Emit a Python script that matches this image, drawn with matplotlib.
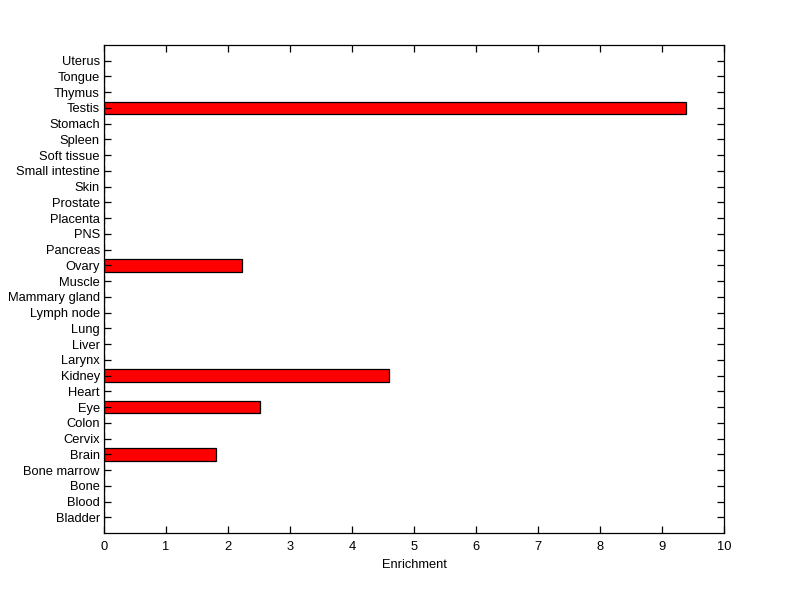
import matplotlib
matplotlib.use("Agg")
import matplotlib.pyplot as plt

tissues = [
    "Bladder", "Blood", "Bone", "Bone marrow", "Brain", "Cervix", "Colon", "Eye",
    "Heart", "Kidney", "Larynx", "Liver", "Lung", "Lymph node", "Mammary gland",
    "Muscle", "Ovary", "Pancreas", "PNS", "Placenta", "Prostate", "Skin",
    "Small intestine", "Soft tissue", "Spleen", "Stomach", "Testis", "Thymus",
    "Tongue", "Uterus",
]
enrichment = [
    0, 0, 0, 0, 1.81, 0, 0, 2.52,
    0, 4.60, 0, 0, 0, 0, 0,
    0, 2.23, 0, 0, 0, 0, 0,
    0, 0, 0, 0, 9.38, 0,
    0, 0,
]
xticks = list(range(0, 11))

plt.rcParams["font.family"] = ["Liberation Sans", "DejaVu Sans"]
plt.rcParams["font.size"] = 9.3

fig = plt.figure(figsize=(8, 5.99), dpi=100)
ax = fig.add_axes([0.13, 0.11, 0.775, 0.815])

pos = list(range(1, len(tissues) + 1))
ax.barh(pos, enrichment, height=0.8, color="#ff0000", edgecolor="black", linewidth=0.9)

ax.set_xlim(0, 10)
ax.set_ylim(0, len(tissues) + 1)
ax.set_xticks(xticks)
ax.set_yticks(pos)
ax.set_yticklabels(tissues)
ax.set_xlabel("Enrichment", labelpad=4)

ax.tick_params(direction="in", top=True, right=True, length=5, width=0.9,
               colors="black")
ax.tick_params(axis="y", pad=3)
ax.tick_params(axis="x", pad=6)
for s in ax.spines.values():
    s.set_linewidth(0.9)

fig.savefig("out.png", dpi=100, facecolor="white")
